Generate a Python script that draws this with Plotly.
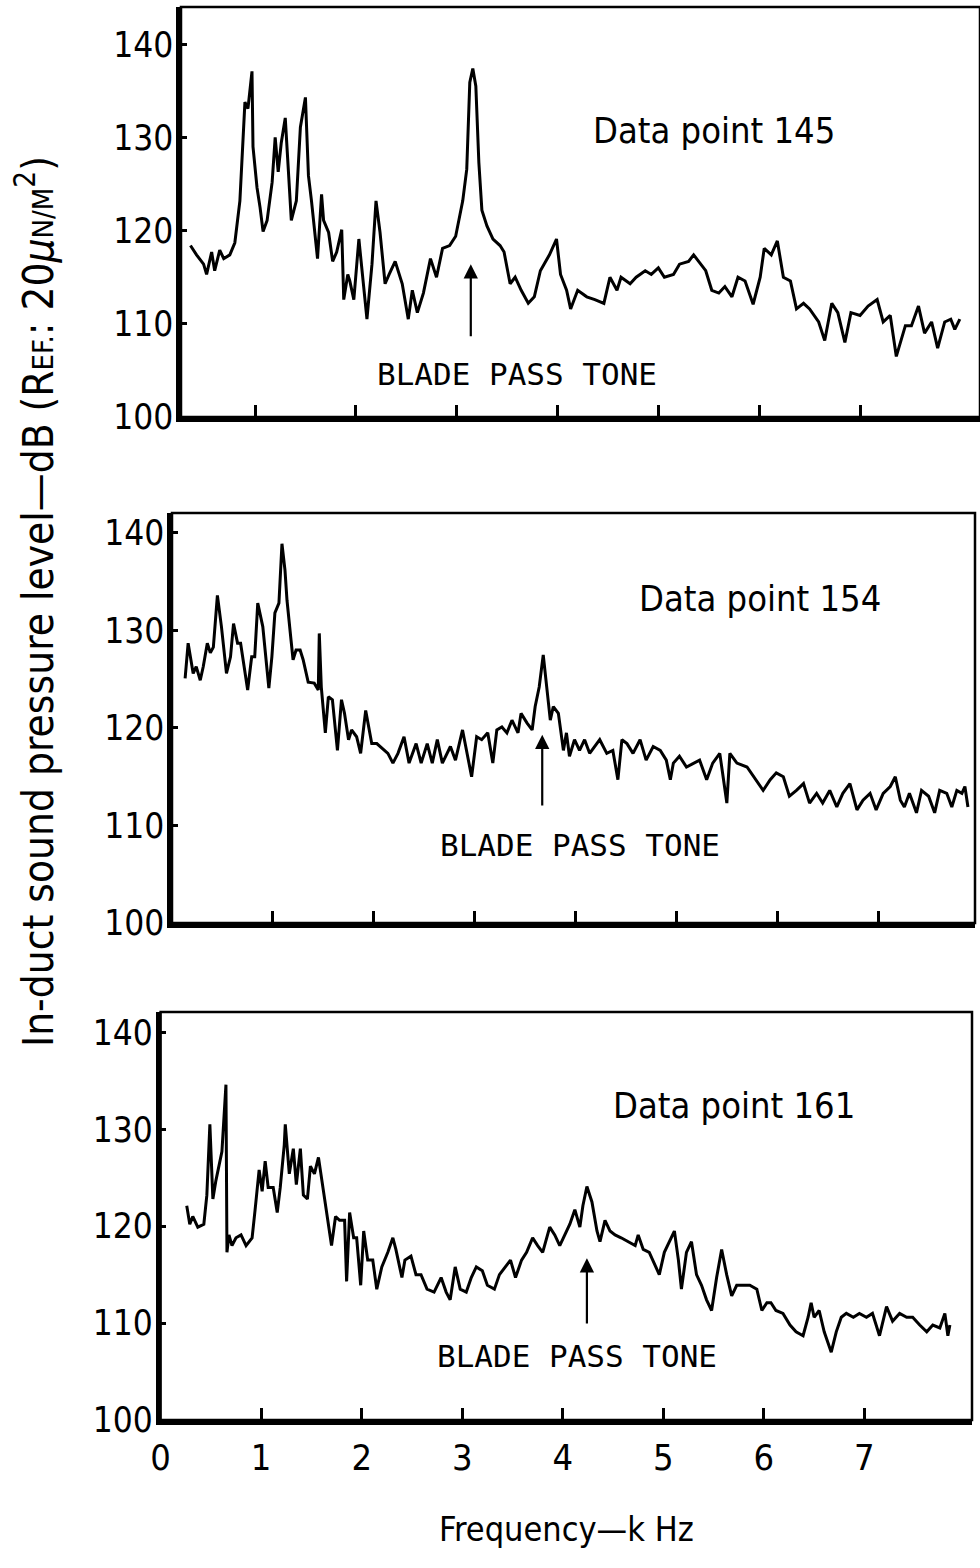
import plotly.graph_objects as go

# ---- spectra: frequency (kHz) and in-duct SPL (dB) ----
FREQ_145 = [0.36, 0.42, 0.49, 0.52, 0.57, 0.60, 0.65, 0.69, 0.75, 0.80, 0.85, 0.90, 0.93, 0.97, 0.98,
            1.02, 1.05, 1.08, 1.12, 1.17, 1.20, 1.23, 1.26, 1.30, 1.33, 1.36, 1.41, 1.45, 1.50, 1.53,
            1.56, 1.60, 1.62, 1.66, 1.68, 1.73, 1.77, 1.81, 1.86, 1.88, 1.92, 1.94, 1.98, 2.03, 2.07,
            2.11, 2.16, 2.20, 2.24, 2.29, 2.33, 2.39, 2.46, 2.52, 2.56, 2.61, 2.67, 2.74, 2.80, 2.86,
            2.93, 2.99, 3.06, 3.10, 3.13, 3.16, 3.19, 3.22, 3.25, 3.30, 3.36, 3.43, 3.47, 3.53, 3.58,
            3.64, 3.71, 3.77, 3.83, 3.92, 3.99, 4.03, 4.09, 4.13, 4.20, 4.29, 4.37, 4.46, 4.52, 4.59,
            4.63, 4.72, 4.78, 4.87, 4.93, 5.00, 5.06, 5.15, 5.21, 5.30, 5.35, 5.40, 5.47, 5.53, 5.60,
            5.66, 5.73, 5.79, 5.86, 5.94, 6.01, 6.05, 6.12, 6.18, 6.24, 6.31, 6.37, 6.44, 6.50, 6.59,
            6.65, 6.72, 6.78, 6.85, 6.91, 7.00, 7.08, 7.17, 7.23, 7.30, 7.36, 7.45, 7.51, 7.58, 7.64,
            7.71, 7.77, 7.84, 7.90, 7.94, 7.99]
SPL_145 = [118.4, 117.4, 116.4, 115.3, 117.7, 115.7, 117.9, 117.0, 117.4, 118.7, 123.2, 133.8, 133.1, 137.1, 129.0,
           124.6, 122.5, 119.9, 121.1, 125.2, 130.0, 126.3, 129.4, 132.1, 126.6, 121.1, 123.2, 131.1, 134.3, 125.9,
           123.2, 119.5, 117.0, 123.9, 121.1, 119.8, 116.7, 117.7, 120.1, 112.6, 115.3, 114.6, 112.6, 119.1, 114.6,
           110.5, 116.4, 123.2, 119.8, 114.3, 115.3, 116.7, 114.3, 110.5, 113.6, 111.2, 113.3, 117.0, 115.0, 118.1,
           118.4, 119.4, 123.2, 126.6, 135.9, 137.4, 135.5, 127.3, 122.2, 120.5, 119.1, 118.4, 117.7, 114.3, 115.0,
           113.6, 112.2, 112.9, 115.7, 117.4, 119.1, 115.3, 113.6, 111.6, 113.6, 112.9, 112.6, 112.2, 115.0, 113.6,
           115.0, 114.3, 115.0, 115.7, 115.3, 116.0, 115.0, 115.3, 116.4, 116.7, 117.4, 116.7, 115.7, 113.6, 113.3,
           114.0, 112.9, 115.0, 114.6, 112.1, 115.0, 118.1, 117.4, 118.9, 115.0, 114.6, 111.6, 112.2, 111.6, 110.2,
           108.2, 112.2, 111.2, 108.0, 111.2, 110.9, 111.9, 112.6, 110.2, 110.9, 106.5, 109.8, 109.8, 111.9, 109.0,
           110.2, 107.4, 110.2, 110.5, 109.4, 110.5]

FREQ_154 = [0.13, 0.16, 0.21, 0.24, 0.28, 0.31, 0.35, 0.38, 0.41, 0.45, 0.49, 0.54, 0.58, 0.61, 0.65,
            0.68, 0.75, 0.79, 0.82, 0.85, 0.90, 0.93, 0.96, 0.99, 1.02, 1.06, 1.09, 1.12, 1.14, 1.18,
            1.20, 1.23, 1.27, 1.30, 1.35, 1.41, 1.45, 1.46, 1.48, 1.52, 1.55, 1.59, 1.64, 1.68, 1.71,
            1.75, 1.78, 1.83, 1.87, 1.92, 1.98, 2.03, 2.10, 2.14, 2.19, 2.24, 2.30, 2.35, 2.42, 2.47,
            2.53, 2.58, 2.63, 2.68, 2.76, 2.81, 2.88, 2.93, 2.97, 3.02, 3.07, 3.13, 3.18, 3.22, 3.27,
            3.32, 3.37, 3.43, 3.46, 3.52, 3.57, 3.60, 3.64, 3.68, 3.71, 3.75, 3.78, 3.83, 3.88, 3.91,
            3.94, 3.99, 4.04, 4.09, 4.14, 4.19, 4.24, 4.31, 4.37, 4.42, 4.46, 4.51, 4.57, 4.64, 4.70,
            4.77, 4.84, 4.90, 4.94, 4.97, 5.03, 5.10, 5.17, 5.23, 5.30, 5.36, 5.43, 5.50, 5.53, 5.60,
            5.70, 5.79, 5.86, 5.93, 5.99, 6.06, 6.12, 6.19, 6.26, 6.32, 6.39, 6.45, 6.52, 6.59, 6.65,
            6.72, 6.79, 6.85, 6.92, 6.98, 7.05, 7.12, 7.17, 7.22, 7.26, 7.31, 7.38, 7.43, 7.50, 7.56,
            7.61, 7.68, 7.73, 7.78, 7.83, 7.86, 7.89]
SPL_154 = [125.1, 128.7, 125.6, 126.3, 124.9, 126.3, 128.7, 127.7, 128.3, 133.6, 130.4, 125.6, 127.3, 130.7, 128.7,
           128.7, 123.9, 127.3, 127.3, 132.8, 130.4, 127.0, 124.1, 127.3, 131.8, 132.8, 138.9, 136.2, 133.1, 129.0,
           127.0, 128.0, 128.0, 127.0, 124.7, 124.6, 123.9, 129.7, 124.2, 119.5, 123.2, 122.9, 117.7, 122.9, 121.5,
           118.8, 119.8, 119.1, 117.4, 121.8, 118.4, 118.4, 117.7, 117.4, 116.4, 117.4, 119.1, 116.4, 118.4, 116.4,
           118.4, 116.4, 118.8, 116.4, 118.1, 116.7, 119.8, 117.1, 115.0, 119.1, 118.8, 119.5, 116.4, 119.8, 120.1,
           119.5, 120.8, 119.5, 121.5, 120.5, 119.8, 122.2, 124.2, 127.5, 124.4, 120.8, 122.2, 121.5, 117.7, 119.5,
           117.1, 118.8, 117.7, 118.8, 117.4, 118.1, 118.8, 117.4, 117.7, 114.7, 118.8, 118.4, 117.4, 118.8, 116.7,
           118.1, 117.7, 116.7, 114.7, 116.4, 117.1, 116.0, 116.4, 116.7, 114.7, 116.4, 117.4, 112.3, 117.4, 116.4,
           116.0, 114.7, 113.6, 114.7, 115.4, 115.0, 113.0, 113.6, 114.3, 112.3, 113.3, 112.3, 113.6, 111.9, 113.3,
           114.3, 111.6, 112.6, 113.3, 111.6, 113.3, 114.0, 115.0, 112.6, 111.9, 113.3, 111.3, 113.6, 113.0, 111.3,
           113.6, 113.3, 111.9, 113.6, 113.3, 114.0, 111.9]

FREQ_161 = [0.26, 0.29, 0.32, 0.37, 0.43, 0.46, 0.49, 0.52, 0.55, 0.59, 0.61, 0.65, 0.66, 0.68, 0.71,
            0.75, 0.80, 0.85, 0.91, 0.94, 0.98, 1.01, 1.04, 1.07, 1.12, 1.16, 1.19, 1.23, 1.24, 1.28,
            1.32, 1.35, 1.39, 1.42, 1.46, 1.49, 1.53, 1.57, 1.62, 1.65, 1.70, 1.74, 1.78, 1.83, 1.85,
            1.88, 1.92, 1.95, 1.99, 2.02, 2.06, 2.11, 2.15, 2.20, 2.26, 2.31, 2.34, 2.40, 2.43, 2.49,
            2.54, 2.59, 2.65, 2.72, 2.79, 2.84, 2.88, 2.93, 2.98, 3.04, 3.09, 3.14, 3.20, 3.25, 3.32,
            3.37, 3.43, 3.48, 3.53, 3.59, 3.64, 3.70, 3.75, 3.80, 3.87, 3.92, 3.97, 4.02, 4.07, 4.12,
            4.17, 4.20, 4.24, 4.29, 4.34, 4.37, 4.42, 4.47, 4.52, 4.58, 4.65, 4.72, 4.75, 4.80, 4.86,
            4.91, 4.96, 5.01, 5.06, 5.11, 5.15, 5.18, 5.23, 5.28, 5.33, 5.38, 5.43, 5.48, 5.53, 5.58,
            5.63, 5.68, 5.73, 5.79, 5.86, 5.93, 5.98, 6.03, 6.07, 6.12, 6.19, 6.26, 6.32, 6.39, 6.44,
            6.47, 6.50, 6.55, 6.60, 6.67, 6.72, 6.77, 6.82, 6.89, 6.95, 7.02, 7.08, 7.15, 7.22, 7.28,
            7.35, 7.42, 7.48, 7.55, 7.62, 7.68, 7.75, 7.80, 7.83, 7.85]
SPL_161 = [122.1, 120.2, 121.0, 119.9, 120.2, 123.2, 130.5, 122.8, 124.7, 126.9, 127.7, 134.6, 117.3, 119.1, 118.0,
           118.8, 119.1, 118.0, 118.8, 121.7, 125.8, 123.6, 126.7, 124.0, 124.0, 121.4, 124.0, 128.4, 130.5, 125.4,
           128.0, 124.3, 128.0, 123.2, 122.8, 126.2, 125.4, 127.1, 123.6, 121.0, 118.0, 121.0, 120.6, 120.6, 114.3,
           121.4, 118.8, 118.8, 113.9, 119.5, 116.5, 116.5, 113.5, 115.8, 117.3, 118.8, 117.6, 114.7, 116.5, 116.9,
           115.0, 115.0, 113.5, 113.2, 114.7, 113.2, 112.4, 115.8, 113.5, 113.2, 114.7, 115.8, 115.4, 113.9, 113.5,
           115.0, 115.8, 116.5, 114.7, 116.5, 117.3, 118.8, 118.0, 117.3, 119.9, 119.1, 118.0, 119.1, 120.2, 121.7,
           119.9, 122.1, 124.1, 122.5, 119.5, 118.4, 120.6, 119.5, 119.1, 118.8, 118.4, 118.0, 119.1, 117.6, 117.3,
           116.2, 115.0, 117.3, 118.4, 119.5, 116.5, 113.5, 117.3, 118.4, 115.0, 113.9, 112.4, 111.3, 114.7, 117.6,
           115.0, 112.8, 113.9, 113.9, 113.9, 113.5, 111.3, 112.1, 112.1, 111.3, 111.0, 109.8, 109.1, 108.7, 110.6,
           112.1, 110.6, 111.3, 109.1, 107.0, 109.1, 110.6, 111.0, 110.6, 111.0, 110.6, 111.0, 108.7, 111.7, 110.2,
           111.0, 110.6, 110.6, 109.8, 109.1, 109.8, 109.5, 111.0, 108.7, 109.8]

DATA_POINTS = ["145", "154", "161"]
BLADE_PASS_KHZ = [3.14, 3.67, 4.24]
Y_TICKS = [100, 110, 120, 130, 140]
X_TICKS = [0, 1, 2, 3, 4, 5, 6, 7]

SERIES = [(FREQ_145, SPL_145), (FREQ_154, SPL_154), (FREQ_161, SPL_161)]

# ---- page geometry ----
W, H = 980, 1568
# panel frames in page pixels: left, right, top, bottom
FRAMES = [(181, 980, 7, 417), (172, 975, 513, 923), (160.6, 972, 1012, 1420)]
X_RANGES = [[0.266, 8.19], [0.0, 7.96], [0.0, 8.07]]
Y_RANGES = [[100, 144], [100, 142.05], [100, 142.1]]

# annotation placement (data units of each panel)
LABEL_POS = [(5.55, 130.7), (5.83, 133.3), (5.70, 132.5)]
TONE_TEXT_POS = [(3.60, 104.6), (4.04, 108.0), (4.14, 106.6)]
ARROW_HEAD_TAIL = [(116.4, 108.5), (119.3, 111.9), (116.7, 109.8)]

SANS = "Liberation Sans Narrow, DejaVu Sans Condensed, Liberation Sans, sans-serif"
MONO = "DejaVu Sans Mono, Liberation Mono, monospace"
INK = "#000000"

fig = go.Figure()
annotations = []
shapes = []

for i, ((fx, fy), (l, r, t, b)) in enumerate(zip(SERIES, FRAMES)):
    n = "" if i == 0 else str(i + 1)
    xa, ya = "x" + n, "y" + n
    fig.add_trace(go.Scatter(
        x=fx, y=fy, xaxis=xa, yaxis=ya, mode="lines",
        line=dict(color=INK, width=3), hoverinfo="skip", showlegend=False,
    ))

    last = i == len(SERIES) - 1
    xaxis = dict(
        domain=[l / W, r / W], range=X_RANGES[i], anchor=ya,
        tickvals=X_TICKS if last else X_TICKS[1:],
        showticklabels=last, ticks="inside", ticklen=12, tickwidth=2.5, tickcolor=INK,
        showline=True, linewidth=4.5, linecolor=INK, showgrid=False, zeroline=False,
        tickfont=dict(family=SANS, size=36, color=INK), ticklabelstandoff=2,
        automargin=False,
    )
    if last:
        xaxis["title"] = dict(text="Frequency\u2014k Hz",
                              font=dict(family=SANS, size=34, color=INK), standoff=42)
    fig.update_layout(**{
        "xaxis" + n: xaxis,
        "yaxis" + n: dict(
            domain=[1 - b / H, 1 - t / H], range=Y_RANGES[i], anchor=xa,
            tickvals=Y_TICKS, ticks="inside", ticklen=6, tickwidth=2.5, tickcolor=INK,
            showline=True, linewidth=4.5, linecolor=INK, showgrid=False, zeroline=False,
            tickfont=dict(family=SANS, size=35, color=INK), ticklabelstandoff=-4,
            automargin=False,
        ),
    })

    # thin frame around the panel
    shapes.append(dict(type="rect", xref=xa + " domain", yref=ya + " domain",
                       x0=0, x1=1, y0=0, y1=1, line=dict(color=INK, width=2.5)))

    lx, ly = LABEL_POS[i]
    annotations.append(dict(
        x=lx, y=ly, xref=xa, yref=ya, text="Data point " + DATA_POINTS[i], showarrow=False,
        font=dict(family=SANS, size=36, color=INK), xanchor="center", yanchor="middle",
    ))

    tx, ty = TONE_TEXT_POS[i]
    annotations.append(dict(
        x=tx, y=ty, xref=xa, yref=ya, text="BLADE PASS TONE", showarrow=False,
        font=dict(family=MONO, size=31, color=INK), xanchor="center", yanchor="middle",
    ))

    head, tail = ARROW_HEAD_TAIL[i]
    annotations.append(dict(
        x=BLADE_PASS_KHZ[i], y=head, ax=BLADE_PASS_KHZ[i], ay=tail,
        xref=xa, yref=ya, axref=xa, ayref=ya, text="", showarrow=True,
        arrowhead=2, arrowsize=1.3, arrowwidth=2.2, arrowcolor=INK,
    ))

annotations.append(dict(
    x=35 / W, y=1 - 602 / H, xref="paper", yref="paper", textangle=-90, showarrow=False,
    text="In-duct sound pressure level\u2014dB (R<span style='font-size:29px'>EF.</span>: "
         "20<i>\u03bc</i><span style='font-size:29px'>N/M</span><sup>2</sup>)",
    font=dict(family=SANS, size=42, color=INK), xanchor="center", yanchor="middle",
))

fig.update_layout(
    width=W, height=H, margin=dict(l=0, r=0, t=0, b=0),
    paper_bgcolor="white", plot_bgcolor="white",
    annotations=annotations, shapes=shapes,
)

fig.write_html("out.html")
